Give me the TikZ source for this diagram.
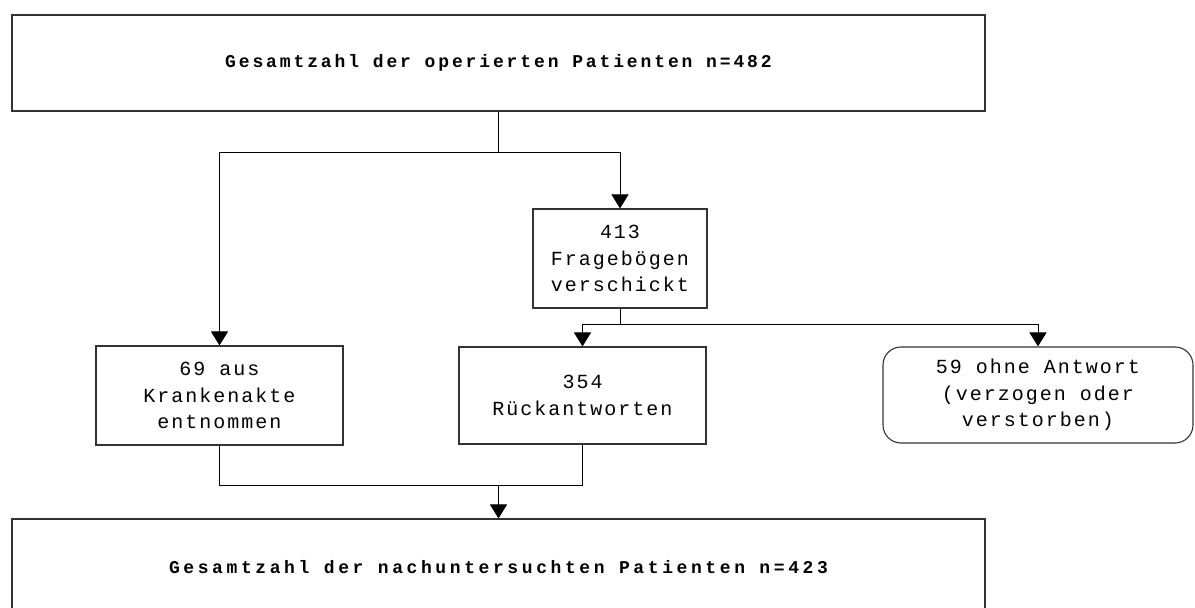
\documentclass[tikz,border=0pt]{standalone}
\usepackage{fontspec}
\setmainfont{Liberation Mono}
\newfontfamily\boxfont[LetterSpace=10]{Liberation Mono}
\newfontfamily\titlefont[LetterSpace=16]{Liberation Mono}
\newfontfamily\titlefontb[LetterSpace=20]{Liberation Mono}
\usetikzlibrary{arrows.meta}
\tikzset{
  box/.style={draw=black!80, line width=1.1pt, rectangle, inner sep=0pt, align=center,
    font=\boxfont\fontsize{20}{26.5}\selectfont},
  rbox/.style={box, rounded corners=18pt},
  bigbox/.style={draw=black!80, line width=1.1pt, rectangle, inner sep=0pt,
    minimum width=973pt, minimum height=96pt,
    font=\titlefont\bfseries\fontsize{18}{22}\selectfont},
  conn/.style={draw=black, line width=1pt},
  arr/.style={conn, -{Triangle[width=17pt,length=14pt]}},
}
\begin{document}
\begin{tikzpicture}[x=1pt,y=-1pt]
\useasboundingbox (0,0) rectangle (1195,608);
\clip (0,0) rectangle (1195,608);
\fill[white] (0,0) rectangle (1195,608);
% nodes
\node[bigbox] (top) at (498.5,63) {Gesamtzahl der operierten Patienten n=482};
\node[box, minimum width=174pt, minimum height=99pt] (fb) at (620,258.5) {413\\Fragebögen\\verschickt};
\node[box, minimum width=247pt, minimum height=99pt] (kr) at (219.5,395.5) {69 aus\\Krankenakte\\entnommen};
\node[box, minimum width=247pt, minimum height=97pt] (rk) at (582.5,395.5) {354\\Rückantworten};
\node[rbox, minimum width=310pt, minimum height=96pt] (oa) at (1038,395) {59 ohne Antwort\\(verzogen oder\\verstorben)};
\node[bigbox, font=\titlefontb\bfseries\fontsize{18}{22}\selectfont] (bot) at (498.5,567) {Gesamtzahl der nachuntersuchten Patienten n=423};
% junction coordinates
\coordinate (j1) at (498.5,152);
\coordinate (j2) at (620,324);
\coordinate (j3) at (498.5,485);
% connectors
\draw[conn] (top.south) -- (j1);
\draw[conn] (kr.north |- j1) -- (fb.north |- j1);
\draw[arr] (kr.north |- j1) -- (kr.north);
\draw[arr] (fb.north |- j1) -- (fb.north);
\draw[conn] (fb.south) -- (j2);
\draw[conn] (rk.north |- j2) -- (oa.north |- j2);
\draw[arr] (rk.north |- j2) -- (rk.north);
\draw[arr] (oa.north |- j2) -- (oa.north);
\draw[conn] (kr.south) -- (kr.south |- j3) -- (rk.south |- j3) -- (rk.south);
\draw[arr] (j3) -- (bot.north);
\end{tikzpicture}
\end{document}
